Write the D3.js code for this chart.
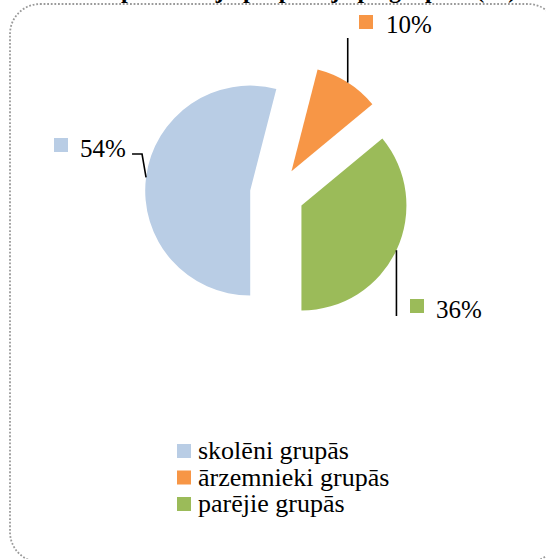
<!DOCTYPE html>
<html><head><meta charset="utf-8">
<script src="https://cdn.jsdelivr.net/npm/d3@7"></script>
<style>
html,body{margin:0;padding:0;background:#fff;}
svg{display:block;}
text{font-family:"Liberation Serif","Times New Roman",serif;fill:#000;}
</style></head>
<body>
<svg id="chart" width="546" height="559"></svg>
<script>
const title = "Apmeklētāju proporcija pa grupām (%)";
const categories = ["skolēni grupās", "ārzemnieki grupās", "parējie grupās"];
const values = [54, 10, 36];
const labels = ["54%", "10%", "36%"];
const colors = ["#B9CDE5", "#F79646", "#9BBB59"];

const svg = d3.select("#chart");

// frame
svg.append("rect").attr("x", 10).attr("y", 4).attr("width", 548).attr("height", 558)
  .attr("rx", 30).attr("ry", 30).attr("fill", "#fff")
  .attr("stroke", "#9a9a9a").attr("stroke-width", 1.8).attr("stroke-dasharray", "1.8 1.8");

// title (clipped at top, as in the reference)
svg.append("text").attr("x", 310).attr("y", -2).attr("text-anchor", "middle")
  .attr("font-weight", "bold").attr("font-size", 24).text(title);

const cx = 277, cy = 194, r = 105, explode = 27;
const pie = d3.pie().sort(null).value(d => d).startAngle(Math.PI).endAngle(3 * Math.PI);
const arcs = pie(values);
const arc = d3.arc().innerRadius(0).outerRadius(r);

const g = svg.append("g").attr("transform", `translate(${cx},${cy})`);
arcs.forEach((a, i) => {
  const mid = (a.startAngle + a.endAngle) / 2;
  const ox = Math.sin(mid) * explode, oy = -Math.cos(mid) * explode;
  g.append("path").attr("d", arc(a)).attr("fill", colors[i])
    .attr("transform", `translate(${ox},${oy})`);
});

// leader lines and data labels
function edgePoint(i) {
  const a = arcs[i];
  const mid = (a.startAngle + a.endAngle) / 2;
  const d = r + explode;
  return [cx + Math.sin(mid) * d, cy - Math.cos(mid) * d];
}
const line = d3.line();
const lbl = svg.append("g");
function label(i, sx, sy, tx, ty) {
  lbl.append("rect").attr("x", sx).attr("y", sy).attr("width", 14).attr("height", 14).attr("fill", colors[i]);
  lbl.append("text").attr("x", tx).attr("y", ty).attr("font-size", 25).text(labels[i]);
}
// 54%
{
  const p = edgePoint(0);
  lbl.append("path").attr("d", line([[p[0], p[1]], [p[0] - 4, 154], [p[0] - 14, 154]]))
    .attr("fill", "none").attr("stroke", "#000").attr("stroke-width", 1.6);
  label(0, 54, 138, 80, 157);
}
// 10%
{
  const p = edgePoint(1);
  lbl.append("path").attr("d", line([[p[0], p[1]], [p[0], 38]]))
    .attr("fill", "none").attr("stroke", "#000").attr("stroke-width", 1.6);
  label(1, 359, 15, 386, 33);
}
// 36%
{
  const p = edgePoint(2);
  lbl.append("path").attr("d", line([[p[0], p[1]], [p[0], 316]]))
    .attr("fill", "none").attr("stroke", "#000").attr("stroke-width", 1.6);
  label(2, 410, 299, 436, 318);
}

// legend
const leg = svg.append("g");
categories.forEach((c, i) => {
  const y = 459 + i * 26.5;
  leg.append("rect").attr("x", 177).attr("y", y - 15).attr("width", 14).attr("height", 14).attr("fill", colors[i]);
  leg.append("text").attr("x", 198).attr("y", y).attr("font-size", 26).text(c);
});
</script>
</body></html>
